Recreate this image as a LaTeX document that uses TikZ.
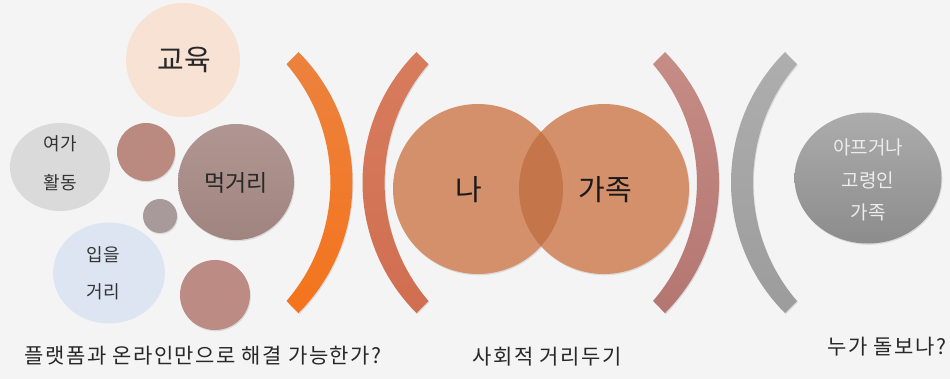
\documentclass[tikz,border=0pt]{standalone}
\usepackage{fontspec}
\setmainfont{Noto Sans CJK KR}
\newfontfamily\capfont[LetterSpace=7]{Noto Sans CJK KR}
\usetikzlibrary{shapes.geometric}
\definecolor{bg}{RGB}{244,244,244}
\definecolor{eduC}{RGB}{248,226,212}
\definecolor{leisureC}{RGB}{218,218,218}
\definecolor{smallA}{RGB}{186,137,128}
\definecolor{foodT}{RGB}{176,150,146}
\definecolor{foodB}{RGB}{160,132,128}
\definecolor{smallB}{RGB}{168,154,154}
\definecolor{clothC}{RGB}{221,229,242}
\definecolor{smallC}{RGB}{187,139,132}
\definecolor{vennC}{RGB}{212,144,106}
\definecolor{vennD}{RGB}{196,117,74}
\definecolor{sickT}{RGB}{172,172,172}
\definecolor{sickB}{RGB}{140,140,140}
\definecolor{txt}{RGB}{40,40,40}
\definecolor{lighttxt}{RGB}{236,236,236}
\definecolor{arcAT}{RGB}{236,130,62}
\definecolor{arcAB}{RGB}{244,116,28}
\definecolor{arcBT}{RGB}{216,124,94}
\definecolor{arcBB}{RGB}{208,110,80}
\definecolor{arcCT}{RGB}{198,140,134}
\definecolor{arcCB}{RGB}{180,118,112}
\definecolor{arcDT}{RGB}{174,174,174}
\definecolor{arcDB}{RGB}{156,156,156}
\newcommand{\myRarc}[2]{%
  \path[#2] (#1+6,52) arc[start angle=-44.96, end angle=44.96, radius=184.7]
    -- (#1-6,301) arc[start angle=40.7, end angle=-40.7, radius=181.6] -- cycle;}
\newcommand{\myLarc}[2]{%
  \path[#2] (#1-6,52) arc[start angle=224.96, end angle=135.04, radius=184.7]
    -- (#1+6,301) arc[start angle=139.3, end angle=220.7, radius=181.6] -- cycle;}
\begin{document}
\begin{tikzpicture}[x=1pt,y=-1pt,
  bubble/.style={circle, inner sep=0pt, draw=none},
  oval/.style={ellipse, inner sep=0pt, draw=none},
  shade/.style={preaction={fill=black, opacity=0.10, transform canvas={xshift=0.8pt, yshift=-1.3pt}}},
  lbl/.style={inner sep=0pt, text=txt},
  fs/.style={font=\fontsize{#1}{#1}\selectfont},
  captext/.style={inner sep=0pt, text=txt, font=\capfont\fontsize{21}{21}\selectfont}]
\fill[bg] (0,0) rectangle (950,379);
\useasboundingbox (0,0) rectangle (950,379);

% left bubbles
\node[bubble, fill=eduC, minimum size=114pt] (edu) at (183,60) {};
\node[oval, fill=leisureC, minimum width=100pt, minimum height=88pt] (leisure) at (60,167) {};
\node[bubble, shade, fill=smallA, minimum size=58pt] (sa) at (146,152) {};
\node[bubble, shade, top color=foodT, bottom color=foodB, minimum size=116pt] (food) at (236,182) {};
\node[bubble, shade, fill=smallB, minimum size=34pt] (sb) at (160,216) {};
\node[oval, fill=clothC, minimum width=112pt, minimum height=101pt] (cloth) at (109,273) {};
\node[bubble, shade, fill=smallC, minimum size=70pt] (sc) at (215,295) {};

\node[lbl, fs=29] (teduc) at (184,60) {교육};
\node[lbl, fs=18, text=black!80] (tleis1) at (60,144) {여가};
\node[lbl, fs=18, text=black!80] (tleis2) at (60,183) {활동};
\node[lbl, fs=23] (tfood) at (236,183) {먹거리};
\node[lbl, fs=18, text=black!80] (tcl1) at (103,255) {입을};
\node[lbl, fs=18, text=black!80] (tcl2) at (103,292) {거리};

% arcs
\myRarc{292.5}{top color=arcAT, bottom color=arcAB, shade}
\myLarc{422.5}{top color=arcBT, bottom color=arcBB, shade}
\myRarc{659}{top color=arcCT, bottom color=arcCB, shade}
\myLarc{791}{top color=arcDT, bottom color=arcDB, shade}

% venn
\node[bubble, shade, fill=vennC, minimum size=170pt] (me) at (478,189) {};
\node[bubble, shade, fill=vennC, minimum size=170pt] (fam) at (604,189) {};
\begin{scope}
  \clip (478,189) circle[radius=85];
  \fill[vennD] (604,189) circle[radius=85];
\end{scope}
\node[lbl, fs=29, text=black!90] (tme) at (469,190) {나};
\node[lbl, fs=29, text=black!90] (tfam) at (605,190) {가족};

% right ellipse
\node[oval, shade, top color=sickT, bottom color=sickB, minimum width=147pt, minimum height=131pt] (sick) at (868,178) {};
\node[lbl, fs=19, text=lighttxt] (ts1) at (868,147) {아프거나};
\node[lbl, fs=19, text=lighttxt] (ts2) at (868,180) {고령인};
\node[lbl, fs=19, text=lighttxt] (ts3) at (868,212) {가족};

% captions
\node[captext] (cap1) at (203,356) {플랫폼과 온라인만으로 해결 가능한가?};
\node[captext] (cap2) at (547,357) {사회적 거리두기};
\node[captext] (cap3) at (887,347) {누가 돌보나?};
\end{tikzpicture}
\end{document}
